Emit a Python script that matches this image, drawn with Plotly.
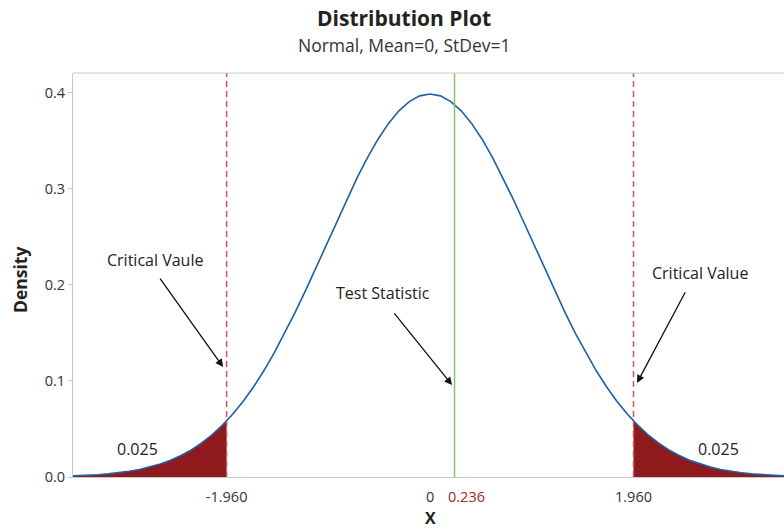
import plotly.graph_objects as go

# ---- data (standard normal density) ----
x_vals = [-3.5, -3.4, -3.3, -3.2, -3.1, -3.0, -2.9, -2.8, -2.7, -2.6, -2.5, -2.4, -2.3, -2.2, -2.1,
          -2.0, -1.9, -1.8, -1.7, -1.6, -1.5, -1.4, -1.3, -1.2, -1.1, -1.0, -0.9, -0.8, -0.7, -0.6,
          -0.5, -0.4, -0.3, -0.2, -0.1, 0.0, 0.1, 0.2, 0.3, 0.4, 0.5, 0.6, 0.7, 0.8, 0.9, 1.0, 1.1,
          1.2, 1.3, 1.4, 1.5, 1.6, 1.7, 1.8, 1.9, 2.0, 2.1, 2.2, 2.3, 2.4, 2.5, 2.6, 2.7, 2.8, 2.9,
          3.0, 3.1, 3.2, 3.3, 3.4, 3.5]
density = [0.0009, 0.0012, 0.0017, 0.0024, 0.0033, 0.0044, 0.0060, 0.0079, 0.0104, 0.0136, 0.0175,
           0.0224, 0.0283, 0.0355, 0.0440, 0.0540, 0.0656, 0.0790, 0.0940, 0.1109, 0.1295, 0.1497,
           0.1714, 0.1942, 0.2179, 0.2420, 0.2661, 0.2897, 0.3123, 0.3332, 0.3521, 0.3683, 0.3814,
           0.3910, 0.3970, 0.3989, 0.3970, 0.3910, 0.3814, 0.3683, 0.3521, 0.3332, 0.3123, 0.2897,
           0.2661, 0.2420, 0.2179, 0.1942, 0.1714, 0.1497, 0.1295, 0.1109, 0.0940, 0.0790, 0.0656,
           0.0540, 0.0440, 0.0355, 0.0283, 0.0224, 0.0175, 0.0136, 0.0104, 0.0079, 0.0060, 0.0044,
           0.0033, 0.0024, 0.0017, 0.0012, 0.0009]

# left tail (shaded) up to -1.96
left_x = [-3.5, -3.4, -3.3, -3.2, -3.1, -3.0, -2.9, -2.8, -2.7, -2.6, -2.5, -2.4, -2.3, -2.2, -2.1, -2.0, -1.96]
left_y = [0.0009, 0.0012, 0.0017, 0.0024, 0.0033, 0.0044, 0.0060, 0.0079, 0.0104, 0.0136, 0.0175,
          0.0224, 0.0283, 0.0355, 0.0440, 0.0540, 0.0584]
# right tail (shaded) from 1.96
right_x = [1.96, 2.0, 2.1, 2.2, 2.3, 2.4, 2.5, 2.6, 2.7, 2.8, 2.9, 3.0, 3.1, 3.2, 3.3, 3.4, 3.5]
right_y = [0.0584, 0.0540, 0.0440, 0.0355, 0.0283, 0.0224, 0.0175, 0.0136, 0.0104, 0.0079, 0.0060,
           0.0044, 0.0033, 0.0024, 0.0017, 0.0012, 0.0009]

critical_values = [-1.96, 1.96]
test_statistic = 0.236
tail_area_labels = ["0.025", "0.025"]
x_tick_vals = [-1.96, 0, 1.96]
x_tick_text = ["-1.960", "0", "1.960"]
y_tick_vals = [0.0, 0.1, 0.2, 0.3, 0.4]
y_tick_text = ["0.0", "0.1", "0.2", "0.3", "0.4"]

FONT = "Open Sans"
FILL = "#8f1a1e"
CURVE = "#1f5fa6"
DASH = "#d4505c"
GREEN = "#8cc26c"
TXT = "#222"

fig = go.Figure()
fig.add_trace(go.Scatter(x=left_x, y=left_y, mode="lines", line=dict(width=0, color=FILL),
                         fill="tozeroy", fillcolor=FILL, hoverinfo="skip"))
fig.add_trace(go.Scatter(x=right_x, y=right_y, mode="lines", line=dict(width=0, color=FILL),
                         fill="tozeroy", fillcolor=FILL, hoverinfo="skip"))
fig.add_trace(go.Scatter(x=x_vals, y=density, mode="lines", line=dict(color=CURVE, width=1.6)))

shapes = []
for cv in critical_values:
    shapes.append(dict(type="line", xref="x", yref="paper", x0=cv, x1=cv, y0=0, y1=1,
                       line=dict(color=DASH, width=1.5, dash="6px,4px")))
shapes.append(dict(type="line", xref="x", yref="paper", x0=test_statistic, x1=test_statistic,
                   y0=0, y1=1, line=dict(color=GREEN, width=1.5)))
shapes.append(dict(type="line", xref="paper", yref="paper", x0=0, x1=1, y0=1, y1=1,
                   line=dict(color="#c8c8c8", width=1)))

ann = []
# title and subtitle
ann.append(dict(text="<b>Distribution Plot</b>", xref="paper", yref="paper", x=(404 - 73) / 711,
                y=1 + (73 - 18) / 404, showarrow=False, font=dict(family=FONT, size=21, color=TXT),
                xanchor="center", yanchor="middle"))
ann.append(dict(text="Normal, Mean=0, StDev=1", xref="paper", yref="paper", x=(404 - 73) / 711,
                y=1 + (73 - 45) / 404, showarrow=False, font=dict(family=FONT, size=17.5, color="#333"),
                xanchor="center", yanchor="middle"))
# axis titles
ann.append(dict(text="<b>X</b>", xref="x", yref="paper", x=0, y=-(518 - 477) / 404, showarrow=False,
                font=dict(family=FONT, size=16, color=TXT), xanchor="center", yanchor="middle"))
ann.append(dict(text="<b>Density</b>", xref="paper", yref="paper", x=-(73 - 20) / 711, y=(477 - 280) / 404,
                showarrow=False, textangle=-90, font=dict(family=FONT, size=17.5, color=TXT),
                xanchor="center", yanchor="middle"))
# test statistic value label under axis
ann.append(dict(text=f"{test_statistic:.3f}", xref="x", yref="paper", x=test_statistic, y=-(496 - 477) / 404,
                showarrow=False, xanchor="left", xshift=-9, yanchor="middle",
                font=dict(family=FONT, size=14.5, color="#a0282c")))
# tail area labels
ann.append(dict(text=tail_area_labels[0], x=-2.82, y=0.0292, showarrow=False,
                font=dict(family=FONT, size=16, color=TXT)))
ann.append(dict(text=tail_area_labels[1], x=2.78, y=0.0292, showarrow=False,
                font=dict(family=FONT, size=16, color=TXT)))
# arrows with labels
arrow_style = dict(showarrow=True, arrowhead=2, arrowsize=1.2, arrowwidth=1.3, arrowcolor="#111",
                   axref="x", ayref="y", text="")
ann.append(dict(x=-1.994, y=0.1146, ax=-2.611, ay=0.2083, **arrow_style))
ann.append(dict(x=0.212, y=0.0958, ax=-0.356, ay=0.172, **arrow_style))
ann.append(dict(x=1.994, y=0.098, ax=2.466, ay=0.194, **arrow_style))
ann.append(dict(text="Critical Vaule", x=-2.65, y=0.226, showarrow=False,
                font=dict(family=FONT, size=16, color=TXT)))
ann.append(dict(text="Test Statistic", x=-0.453, y=0.1917, showarrow=False,
                font=dict(family=FONT, size=16, color=TXT)))
ann.append(dict(text="Critical Value", x=2.60, y=0.2125, showarrow=False,
                font=dict(family=FONT, size=16, color=TXT)))

fig.update_layout(
    width=784, height=528,
    margin=dict(l=73, r=0, t=73, b=51),
    paper_bgcolor="white", plot_bgcolor="white",
    showlegend=False,
    shapes=shapes, annotations=ann,
    font=dict(family=FONT, size=14.5, color="#333"),
    xaxis=dict(range=[-3.44, 3.41], tickvals=x_tick_vals, ticktext=x_tick_text,
               showgrid=False, zeroline=False, showline=True, linecolor="#c8c8c8", linewidth=1,
               ticks="", ticklabelstandoff=7, tickfont=dict(family=FONT, size=14.5, color="#333")),
    yaxis=dict(range=[0, 0.4208], tickvals=y_tick_vals, ticktext=y_tick_text,
               showgrid=False, zeroline=False, showline=True, linecolor="#c8c8c8", linewidth=1,
               ticks="outside", ticklen=4, tickcolor="#c8c8c8",
               tickfont=dict(family=FONT, size=14.5, color="#333")),
)

fig.write_html("out.html")
